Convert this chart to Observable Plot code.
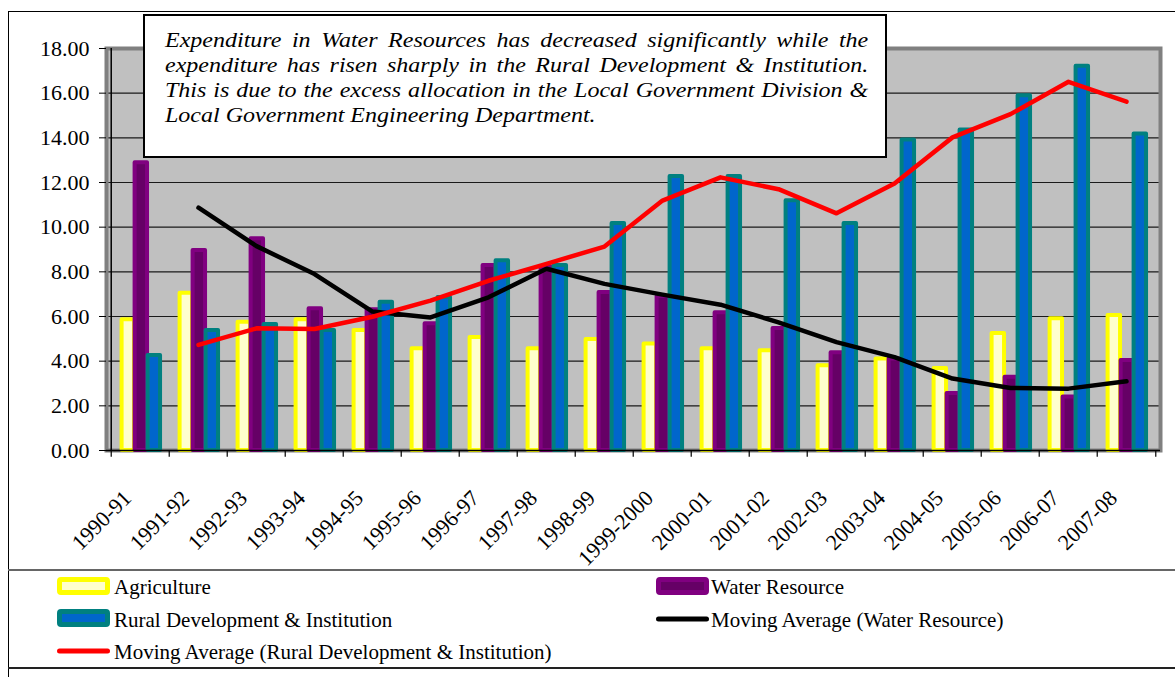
<!DOCTYPE html>
<html><head><meta charset="utf-8">
<script src="https://cdn.jsdelivr.net/npm/d3@7"></script>
<script src="https://cdn.jsdelivr.net/npm/@observablehq/plot@0.6"></script>
<style>
body{margin:0;background:#fff;}
#wrap{position:relative;width:1175px;height:677px;overflow:hidden;background:#fff;font-family:"Liberation Serif","Times New Roman",serif;color:#000;}
#wrap svg.plot{position:absolute;left:0;top:0;}
.hl{position:absolute;height:0;}
.vl{position:absolute;width:0;}
#note{position:absolute;left:143px;top:14px;width:744px;height:144px;box-sizing:border-box;border:2px solid #000;background:#fff;padding:12px 0 0 20px;font-style:italic;font-size:20px;line-height:25px;}
#noteInner{width:586px;transform:scaleX(1.2);transform-origin:0 0;}
#noteInner div{text-align:justify;text-align-last:justify;white-space:nowrap;}
#noteInner div.last{text-align:left;text-align-last:left;}
.lg{position:absolute;font-size:21px;line-height:21px;white-space:nowrap;}
.sw{position:absolute;}
</style></head><body><div id="wrap"></div>
<script>
const years = ["1990-91","1991-92","1992-93","1993-94","1994-95","1995-96","1996-97","1997-98","1998-99","1999-2000","2000-01","2001-02","2002-03","2003-04","2004-05","2005-06","2006-07","2007-08"];
const agriculture = [5.85, 7.04, 5.74, 5.86, 5.37, 4.56, 5.06, 4.56, 4.97, 4.77, 4.56, 4.47, 3.8, 4.1, 3.67, 5.24, 5.9, 6.04];
const waterResource = [12.88, 8.95, 9.48, 6.35, 6.3, 5.68, 8.28, 8.2, 7.07, 6.9, 6.17, 5.46, 4.38, 4.1, 2.55, 3.28, 2.39, 4.03];
const ruralDevelopment = [4.25, 5.37, 5.64, 5.37, 6.64, 6.85, 8.5, 8.28, 10.16, 12.27, 12.27, 11.18, 10.16, 13.9, 14.35, 15.88, 17.2, 14.17];
const movingAvgWater = [null, 10.87, 9.15, 7.9, 6.22, 5.96, 6.86, 8.14, 7.46, 6.98, 6.53, 5.74, 4.85, 4.18, 3.22, 2.8, 2.77, 3.1];
const movingAvgRural = [null, 4.73, 5.47, 5.44, 5.99, 6.71, 7.6, 8.36, 9.13, 11.19, 12.23, 11.7, 10.62, 11.96, 14.02, 15.06, 16.51, 15.62];
const yTicks = [0, 2, 4, 6, 8, 10, 12, 14, 16, 18];
const noteLines = [
  "Expenditure in Water Resources has decreased significantly while the",
  "expenditure has risen sharply in the Rural Development & Institution.",
  "This is due to the excess allocation in the Local Government Division &",
  "Local Government Engineering Department."
];
const legendItems = [
  {label:"Agriculture", kind:"bar", fill:"#FFFFCC", stroke:"#FFFF00"},
  {label:"Water Resource", kind:"bar", fill:"#660066", stroke:"#800080"},
  {label:"Rural Development & Institution", kind:"bar", fill:"#0066CC", stroke:"#008080"},
  {label:"Moving Average (Water Resource)", kind:"line", stroke:"#000000"},
  {label:"Moving Average (Rural Development & Institution)", kind:"line", stroke:"#FF0000"}
];

const rows = years.map((y, i) => ({year: y, agri: agriculture[i], water: waterResource[i], rural: ruralDevelopment[i], maW: movingAvgWater[i], maR: movingAvgRural[i]}));

const W = 1175, H = 570, mL = 106, mR = 15, mT = 48, mB = 120;
const bw = (W - mL - mR) / years.length;
const serif = '"Liberation Serif","Times New Roman",serif';

const chart = Plot.plot({
  width: W, height: H,
  marginLeft: mL, marginRight: mR, marginTop: mT, marginBottom: mB,
  style: {fontFamily: serif, fontSize: "21px", color: "#000", background: "transparent", overflow: "visible"},
  x: {type: "band", domain: years, paddingInner: 0, paddingOuter: 0, label: null, axis: null},
  y: {domain: [0, 18], label: null},
  marks: [
    Plot.frame({fill: "#C0C0C0"}),
    Plot.ruleY(yTicks.slice(1), {stroke: "#1a1a1a", strokeWidth: 1.2}),
    Plot.frame({stroke: "#808080", strokeWidth: 4}),
    Plot.barY(rows, {x: "year", y: "agri", fill: "#FFFFCC", stroke: "#FFFF00", strokeWidth: 4, strokeLinejoin: "round", insetLeft: 10.6, insetRight: bw - 23.6}),
    Plot.barY(rows, {x: "year", y: "water", fill: "#660066", stroke: "#800080", strokeWidth: 4, strokeLinejoin: "round", insetLeft: 23.6, insetRight: bw - 36.6}),
    Plot.barY(rows, {x: "year", y: "rural", fill: "#0066CC", stroke: "#008080", strokeWidth: 4, strokeLinejoin: "round", insetLeft: 36.6, insetRight: bw - 49.6}),
    Plot.line(rows, {x: "year", y: "maW", stroke: "#000", strokeWidth: 4.5, strokeLinejoin: "round", strokeLinecap: "round"}),
    Plot.line(rows, {x: "year", y: "maR", stroke: "#FF0000", strokeWidth: 4.5, strokeLinejoin: "round", strokeLinecap: "round"}),
    Plot.ruleY([0], {stroke: "#000", strokeWidth: 1.5}),
    Plot.ruleX([years[0]], {dx: -bw / 2, y1: 0, y2: 18, stroke: "#000", strokeWidth: 1.5}),
    Plot.ruleX(years, {dx: -bw / 2, y1: 0, y2: -0.3, stroke: "#000", strokeWidth: 1.2}),
    Plot.ruleX([years[years.length - 1]], {dx: bw / 2, y1: 0, y2: -0.3, stroke: "#000", strokeWidth: 1.2}),
    Plot.axisY({ticks: yTicks, tickFormat: d => d.toFixed(2), tickSize: 7, tickPadding: 10, label: null, fontSize: 22}),
    Plot.text(years, {x: d => d, y: 0, text: d => d, rotate: -45, textAnchor: "end", lineAnchor: "middle", dx: -13, dy: 44, fontSize: 22})
  ]
});
chart.classList.add("plot");
const wrap = document.getElementById("wrap");
wrap.appendChild(chart);

function line(cls, css){ const d = document.createElement("div"); d.className = cls; Object.assign(d.style, css); wrap.appendChild(d); }
line("vl", {left: "8px", top: "12px", height: "665px", borderLeft: "1.5px solid #000"});
line("hl", {left: "8px", top: "11px", width: "1167px", borderTop: "1.5px solid #000"});
line("hl", {left: "8px", top: "569px", width: "1167px", borderTop: "2px solid #666"});
line("hl", {left: "8px", top: "667px", width: "1167px", borderTop: "2px solid #222"});

const note = document.createElement("div");
note.id = "note";
const inner = document.createElement("div");
inner.id = "noteInner";
noteLines.forEach((t, i) => { const d = document.createElement("div"); d.textContent = t; if (i === noteLines.length - 1) d.className = "last"; inner.appendChild(d); });
note.appendChild(inner);
wrap.appendChild(note);

const pos = [
  {sx: 57, sy: 577, tx: 114, ty: 577.4},
  {sx: 656, sy: 577, tx: 711, ty: 577.4},
  {sx: 57, sy: 609, tx: 114, ty: 610.4},
  {sx: 656, sy: 610, tx: 711, ty: 610.4},
  {sx: 57, sy: 642, tx: 114, ty: 642.4}
];
legendItems.forEach((it, i) => {
  const p = pos[i];
  const s = document.createElementNS("http://www.w3.org/2000/svg", "svg");
  s.setAttribute("class", "sw"); s.setAttribute("width", 54); s.setAttribute("height", 18);
  s.style.left = p.sx + "px"; s.style.top = p.sy + "px";
  if (it.kind === "bar") {
    s.innerHTML = `<rect x="2.5" y="2.5" width="48" height="13" rx="1.5" fill="${it.fill}" stroke="${it.stroke}" stroke-width="5"/>`;
  } else {
    s.innerHTML = `<line x1="2.5" y1="9" x2="50.5" y2="9" stroke="${it.stroke}" stroke-width="5" stroke-linecap="round"/>`;
  }
  wrap.appendChild(s);
  const t = document.createElement("div");
  t.className = "lg"; t.textContent = it.label;
  t.style.left = p.tx + "px"; t.style.top = p.ty + "px";
  wrap.appendChild(t);
});
</script></body></html>
